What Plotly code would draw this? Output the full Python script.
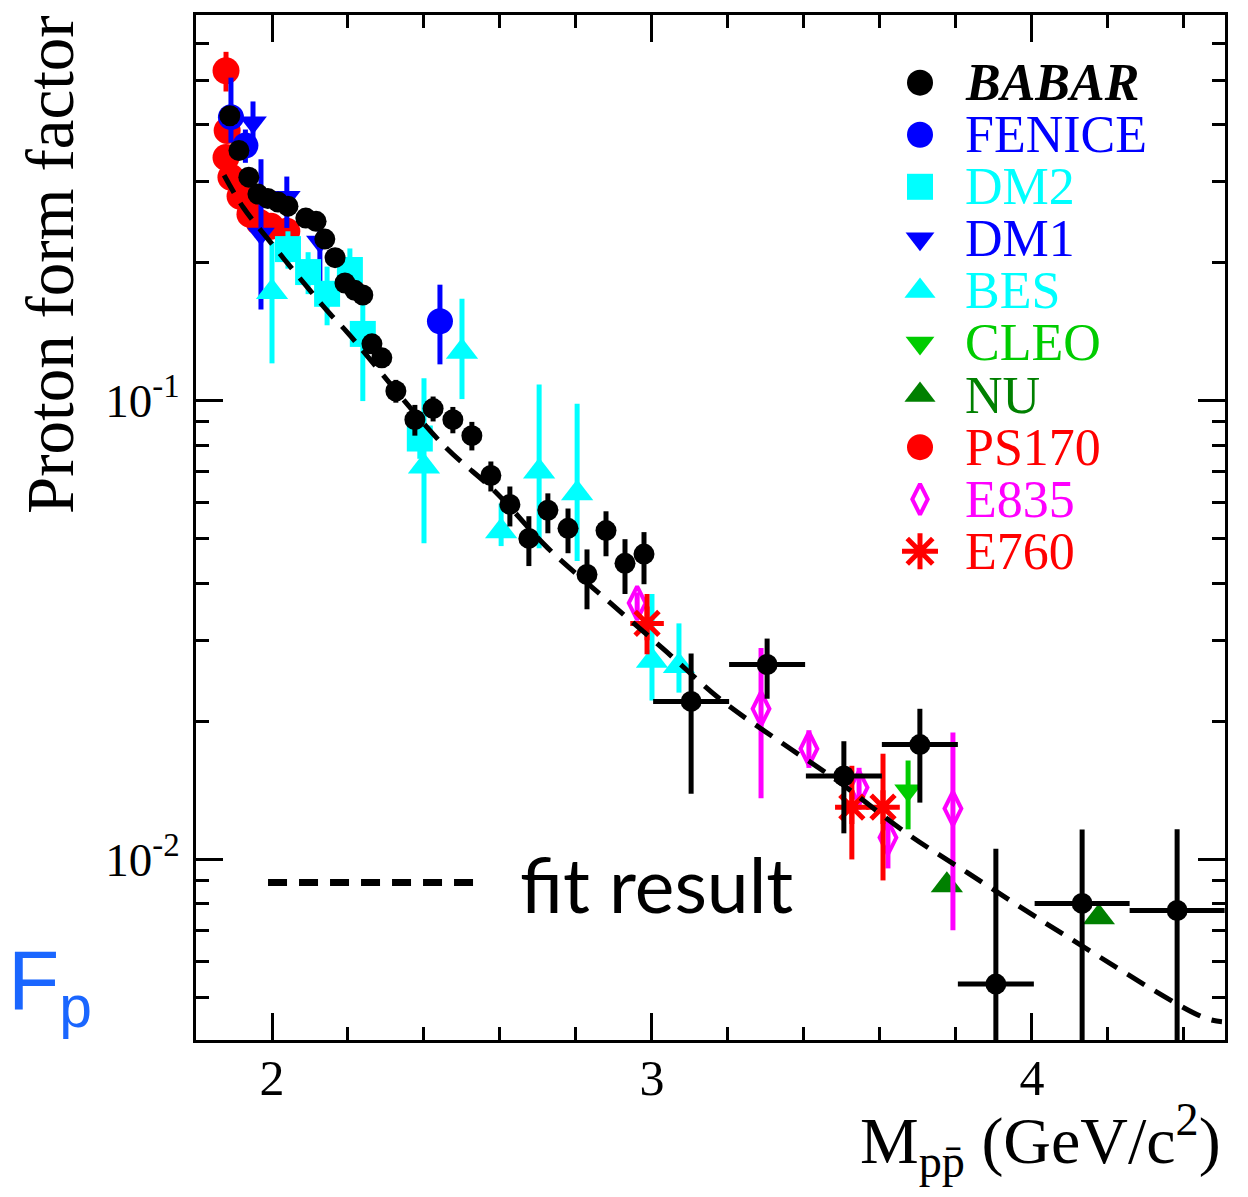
import plotly.graph_objects as go

# ---------------- data: proton form factor vs p-pbar invariant mass ----------------
babar_m = [1.889, 1.913, 1.939, 1.963, 1.989, 2.016, 2.042, 2.089, 2.116, 2.139,
           2.166, 2.192, 2.218, 2.239, 2.263, 2.289, 2.326, 2.376, 2.424, 2.476,
           2.526, 2.576, 2.626, 2.676, 2.726, 2.779, 2.829, 2.879, 2.929, 2.979,
           3.103, 3.303, 3.505, 3.705, 3.905, 4.132, 4.382]
babar_f = [0.418, 0.351, 0.307, 0.282, 0.276, 0.271, 0.2655, 0.250, 0.246, 0.225,
           0.205, 0.1805, 0.174, 0.170, 0.133, 0.124, 0.105, 0.0909, 0.0961, 0.0909,
           0.0839, 0.0687, 0.0594, 0.0501, 0.0577, 0.0527, 0.0418, 0.0521, 0.0442, 0.0463,
           0.0221, 0.0266, 0.0152, 0.0178, 0.00535, 0.00802, 0.00774]
babar_up = [0.012, 0.010, 0.009, 0.008, 0.008, 0.007, 0.007, 0.007, 0.007, 0.007,
            0.006, 0.006, 0.006, 0.006, 0.005, 0.005, 0.006, 0.007, 0.006, 0.006,
            0.006, 0.0050, 0.0056, 0.0059, 0.0051, 0.0055, 0.0056, 0.0053, 0.0057, 0.0054,
            0.0060, 0.0037, 0.0029, 0.0035, 0.0052, 0.0036, 0.0039]
babar_dn = [0.012, 0.010, 0.009, 0.008, 0.008, 0.007, 0.007, 0.007, 0.007, 0.007,
            0.006, 0.006, 0.006, 0.006, 0.005, 0.005, 0.006, 0.007, 0.006, 0.006,
            0.006, 0.0053, 0.0062, 0.0065, 0.0063, 0.0062, 0.0067, 0.0063, 0.0063, 0.0065,
            0.0082, 0.0042, 0.0038, 0.0045, 0.0034, 0.0060, 0.0057]
babar_bin = [0, 0, 0, 0, 0, 0, 0, 0, 0, 0,
             0, 0, 0, 0, 0, 0, 0, 0, 0, 0,
             0, 0, 0, 0, 0, 0, 0, 0, 0, 0,
             0.1, 0.1, 0.1, 0.1, 0.1, 0.125, 0.125]

fenice_m = [1.892, 1.930, 2.442]
fenice_f = [0.415, 0.360, 0.149]
fenice_up = [0.091, 0.030, 0.030]
fenice_dn = [0.050, 0.030, 0.029]

dm2_m = [2.042, 2.095, 2.145, 2.205, 2.239, 2.389]
dm2_f = [0.214, 0.1907, 0.171, 0.1927, 0.1398, 0.0827]
dm2_up = [0.020, 0.020, 0.025, 0.022, 0.025, 0.008]
dm2_dn = [0.020, 0.020, 0.025, 0.022, 0.040, 0.008]

dm1_m = [1.950, 1.971, 2.039, 2.126]
dm1_f = [0.404, 0.231, 0.278, 0.222]
dm1_up = [0.045, 0.105, 0.030, 0.025]
dm1_dn = [0.050, 0.073, 0.040, 0.050]

bes_m = [2.000, 2.400, 2.500, 2.603, 2.703, 2.803, 3.000, 3.071]
bes_f = [0.1726, 0.0719, 0.1278, 0.0519, 0.0701, 0.0628, 0.0271, 0.0264]
bes_up = [0.049, 0.040, 0.039, 0.0078, 0.0383, 0.0357, 0.0108, 0.0063]
bes_dn = [0.052, 0.023, 0.027, 0.0037, 0.0224, 0.0181, 0.0049, 0.0033]

cleo_m = [3.674]
cleo_f = [0.01413]
cleo_up = [0.0023]
cleo_dn = [0.0025]

nu_m = [3.776, 4.176]
nu_f = [0.00878, 0.00748]

ps170_m = [1.879, 1.882, 1.879, 1.892, 1.916, 1.942, 1.966, 1.997, 2.039]
ps170_f = [0.524, 0.388, 0.339, 0.307, 0.279, 0.255, 0.245, 0.240, 0.234]
ps170_err = [0.052, 0.015, 0.012, 0.010, 0.010, 0.010, 0.010, 0.010, 0.010]

e835_m = [2.961, 3.287, 3.413, 3.545, 3.621, 3.792]
e835_f = [0.0362, 0.0213, 0.01743, 0.01434, 0.01116, 0.01291]
e835_up = [0.0020, 0.0076, 0.0017, 0.0015, 0.0012, 0.0060]
e835_dn = [0.0020, 0.0077, 0.0016, 0.0015, 0.0016, 0.0059]

e760_m = [2.987, 3.526, 3.608]
e760_f = [0.0327, 0.0130, 0.0130]
e760_up = [0.0052, 0.0030, 0.0040]
e760_dn = [0.0047, 0.0030, 0.0040]

fit_m = [1.874, 1.924, 2.003, 2.066, 2.153, 2.197, 2.450, 2.587, 2.726, 2.876,
         3.029, 3.184, 3.345, 3.487, 3.671, 3.829, 4.079, 4.450, 4.500]
fit_f = [0.310, 0.264, 0.218, 0.188, 0.1545, 0.1413, 0.0802, 0.0634, 0.0477, 0.0371,
         0.0288, 0.0222, 0.01787, 0.01486, 0.01139, 0.00937, 0.0069, 0.00453, 0.00443]

legend_names = ["<b><i>BABAR</i></b>", "FENICE", "DM2", "DM1", "BES",
                "CLEO", "NU", "PS170", "E835", "E760"]

# ---------------- styles ----------------
BLACK, BLUE, CYAN = "#000000", "#0000ff", "#00ffff"
GREEN, DKGREEN, RED, MAGENTA = "#00cc00", "#008000", "#ff0000", "#ff00ff"
SERIF = "Liberation Serif, Times New Roman, serif"

fig = go.Figure()


def add_series(m, f, up, dn, color, symbol, size, open_line=0, xerr=None):
    err = dict(type="data", array=up, arrayminus=dn, color=color,
               thickness=5, width=0, visible=True)
    kw = {}
    if xerr is not None:
        kw["error_x"] = dict(type="data", array=xerr, color=color,
                             thickness=5, width=0, visible=True)
    marker = dict(color=color, symbol=symbol, size=size, opacity=1,
                  line=dict(width=open_line, color=color))
    fig.add_trace(go.Scatter(x=m, y=f, mode="markers", marker=marker,
                             error_y=err, showlegend=False, **kw))


add_series(ps170_m, ps170_f, ps170_err, ps170_err, RED, "circle", 27)
add_series(dm1_m, dm1_f, dm1_up, dm1_dn, BLUE, "triangle-down", 24)
add_series(fenice_m, fenice_f, fenice_up, fenice_dn, BLUE, "circle", 26)
add_series(dm2_m, dm2_f, dm2_up, dm2_dn, CYAN, "square", 26)
add_series(bes_m, bes_f, bes_up, bes_dn, CYAN, "triangle-up", 28)
add_series(cleo_m, cleo_f, cleo_up, cleo_dn, GREEN, "triangle-down", 24)
add_series(nu_m, nu_f, [0, 0], [0, 0], DKGREEN, "triangle-up", 28)
add_series(e835_m, e835_f, e835_up, e835_dn, MAGENTA, "diamond-tall-open", 24, open_line=4)
add_series(e760_m, e760_f, e760_up, e760_dn, RED, "asterisk-open", 28, open_line=5)

# fit curve
fig.add_trace(go.Scatter(x=fit_m, y=fit_f, mode="lines", line_shape="spline",
                         line=dict(color=BLACK, width=5, dash="20px,12px"),
                         showlegend=False, hoverinfo="skip"))

add_series(babar_m, babar_f, babar_up, babar_dn, BLACK, "circle", 21, xerr=babar_bin)

# ---------------- hand-built legend on an overlay frame ----------------
leg_sym = ["circle", "circle", "square", "triangle-down", "triangle-up",
           "triangle-down", "triangle-up", "circle", "diamond-tall-open", "asterisk-open"]
leg_col = [BLACK, BLUE, CYAN, BLUE, CYAN, GREEN, DKGREEN, RED, MAGENTA, RED]
leg_size = [26, 26, 26, 25, 27, 25, 27, 26, 22, 30]
leg_lw = [0, 0, 0, 0, 0, 0, 0, 0, 4, 5]
row_top, row_step = 0.934, 0.0508
leg_y = [row_top - i * row_step for i in range(len(legend_names))]
leg_x_sym, leg_x_txt = 0.7036, 0.7454

fig.add_trace(go.Scatter(
    x=[leg_x_sym] * len(leg_y), y=leg_y, xaxis="x2", yaxis="y2", mode="markers",
    marker=dict(symbol=leg_sym, color=leg_col, size=leg_size, opacity=1,
                line=dict(width=leg_lw, color=leg_col)),
    showlegend=False, hoverinfo="skip", cliponaxis=False))

annotations = []
for name, col, yy in zip(legend_names, leg_col, leg_y):
    annotations.append(dict(xref="paper", yref="paper", x=leg_x_txt, y=yy,
                            xanchor="left", yanchor="middle", showarrow=False,
                            text=name, font=dict(family=SERIF, size=52, color=col)))

# fit legend entry
fig.add_shape(type="line", xref="paper", yref="paper",
              x0=0.070, x1=0.278, y0=0.1537, y1=0.1537,
              line=dict(color=BLACK, width=7, dash="19px,12px"))
annotations.append(dict(xref="paper", yref="paper", x=0.313, y=0.152,
                        xanchor="left", yanchor="middle", showarrow=False,
                        text="fit result",
                        font=dict(family="Lato, Open Sans, sans-serif", size=75, color=BLACK)))

# axis titles
annotations.append(dict(xref="paper", yref="paper", x=-0.142, y=0.757,
                        xanchor="center", yanchor="middle", showarrow=False,
                        textangle=-90, text="Proton form factor",
                        font=dict(family=SERIF, size=67, color=BLACK)))
annotations.append(dict(xref="paper", yref="paper", x=0.998, y=-0.098,
                        xanchor="right", yanchor="middle", showarrow=False,
                        text="M<sub>pp\u0304</sub> (GeV/c<sup>2</sup>)",
                        font=dict(family=SERIF, size=66, color=BLACK)))
annotations.append(dict(xref="paper", yref="paper", x=-0.185, y=0.053,
                        xanchor="left", yanchor="middle", showarrow=False,
                        text="F<sub>p</sub>",
                        font=dict(family="Liberation Sans, Arial, sans-serif",
                                  size=84, color="#1a66ff")))

axis_common = dict(showline=True, linecolor=BLACK, linewidth=3, mirror="allticks",
                   ticks="inside", tickcolor=BLACK, tickwidth=3, ticklen=27,
                   showgrid=False, zeroline=False)

fig.update_layout(
    width=1248, height=1197,
    margin=dict(l=196, r=23, t=12, b=157),
    paper_bgcolor="white", plot_bgcolor="white",
    showlegend=False,
    xaxis=dict(range=[1.8, 4.508], tickmode="array", tickvals=[2, 3, 4],
               ticktext=["2", "3", "4"], ticklabelstandoff=-8,
               tickfont=dict(family=SERIF, size=50, color=BLACK),
               minor=dict(tickmode="linear", tick0=2, dtick=0.2, ticklen=13,
                          tickwidth=3, tickcolor=BLACK, ticks="inside"),
               **axis_common),
    yaxis=dict(type="log", range=[-2.3936, -0.1593], tickmode="array",
               tickvals=[0.01, 0.1], ticktext=["10<sup>-2</sup>", "10<sup>-1</sup>"],
               ticklabelstandoff=4,
               tickfont=dict(family=SERIF, size=47, color=BLACK),
               minor=dict(tickmode="array",
                          tickvals=[0.004, 0.005, 0.006, 0.007, 0.008, 0.009,
                                    0.02, 0.03, 0.04, 0.05, 0.06, 0.07, 0.08, 0.09,
                                    0.2, 0.3, 0.4, 0.5, 0.6],
                          ticklen=13, tickwidth=3, tickcolor=BLACK, ticks="inside"),
               **axis_common),
    xaxis2=dict(overlaying="x", range=[0, 1], visible=False, fixedrange=True),
    yaxis2=dict(overlaying="y", range=[0, 1], visible=False, fixedrange=True),
    annotations=annotations,
)

fig.write_html("out.html")
